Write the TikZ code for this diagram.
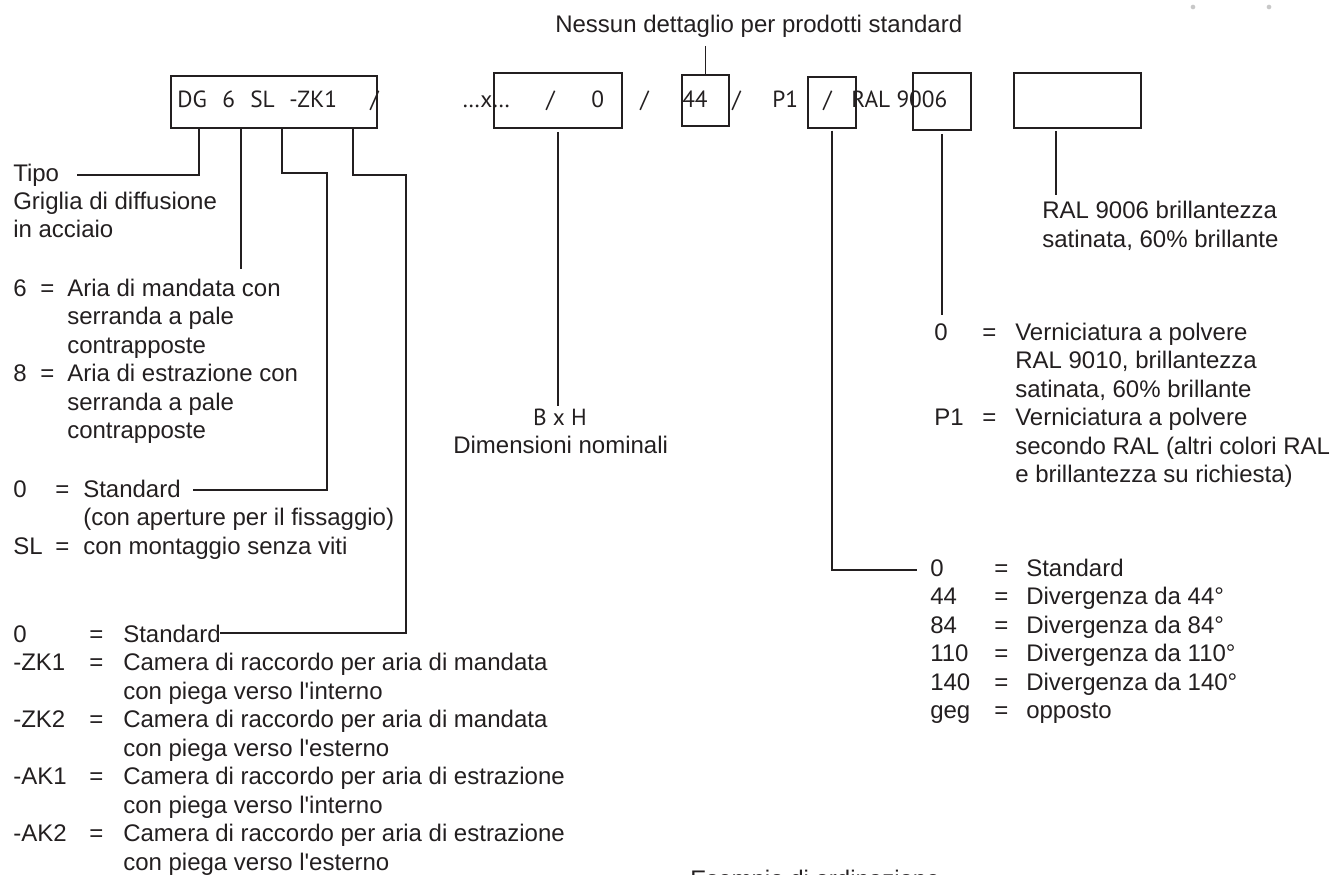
\documentclass[tikz,border=0pt]{standalone}
\usepackage{fontspec}
\setmainfont{Liberation Sans}
\newfontfamily\codefont{PT Sans}
\definecolor{ink}{RGB}{35,31,32}
\definecolor{dotgray}{RGB}{200,200,200}
\begin{document}
\begin{tikzpicture}[x=0.75pt,y=-0.75pt,
  desc/.style={anchor=base west, inner sep=0pt, text=ink, font=\fontsize{18}{21.4}\selectfont},
  code/.style={anchor=base west, inner sep=0pt, text=ink, font=\codefont\fontsize{17.5}{20}\selectfont},
  codebox/.style={draw=ink, line width=0.9pt, inner sep=0pt},
  conn/.style={draw=ink, line width=0.8pt},
  dotmark/.style={circle, fill=dotgray, inner sep=0pt, minimum size=3.5pt}]
\useasboundingbox (0,0) rectangle (1330,874);

% decorative dots
\node[dotmark] (dot1) at (1193,7) {};
\node[dotmark] (dot2) at (1269,7) {};

% title
\node[desc] (title) at (555,33) {Nessun dettaglio per prodotti standard};

% boxes
\node[codebox, minimum width=154.5pt, minimum height=39pt] (b1) at (274,102) {};
\node[codebox, minimum width=96pt, minimum height=41.25pt] (b2) at (558,100.5) {};
\node[codebox, minimum width=35.25pt, minimum height=38.25pt] (b44) at (705.5,100.5) {};
\node[codebox, minimum width=36pt, minimum height=38.25pt] (bsl) at (832,102.5) {};
\node[codebox, minimum width=43.5pt, minimum height=42.75pt] (bral) at (942,101.5) {};
\node[codebox, minimum width=95.25pt, minimum height=41.25pt] (bempty) at (1077.5,100.5) {};

% code tokens
\node[code] (cDG) at (177,108) {DG};
\node[code] (c6) at (222,108) {6};
\node[code] (cSL) at (250,108) {SL};
\node[code] (cZK) at (289,108) {-ZK1};
\node[code] (cs1) at (370,108) {/};
\node[code] (cBH) at (462,108) {…x…};
\node[code] (cs2) at (546,108) {/};
\node[code] (c0) at (591,108) {0};
\node[code] (cs3) at (640,108) {/};
\node[code] (c44) at (682,108) {44};
\node[code] (cs4) at (732,108) {/};
\node[code] (cP1) at (772,108) {P1};
\node[code] (cs5) at (823,108) {/};
\node[code] (cRAL) at (851,108) {RAL 9006};

% ---------- left column ----------
\node[desc] (tipo) at (13,181) {Tipo};
\node[desc] (tipo2) at (13,209) {Griglia di diffusione};
\node[desc] (tipo3) at (13,237) {in acciaio};

\node[desc] (g6k) at (13,296) {6};
\node[desc] (g6e) at (40,296) {=};
\node[desc] (g6a) at (67,296) {Aria di mandata con};
\node[desc] (g6b) at (67,324.5) {serranda a pale};
\node[desc] (g6c) at (67,353) {contrapposte};
\node[desc] (g8k) at (13,381.5) {8};
\node[desc] (g8e) at (40,381.5) {=};
\node[desc] (g8a) at (67,381.5) {Aria di estrazione con};
\node[desc] (g8b) at (67,410) {serranda a pale};
\node[desc] (g8c) at (67,438.5) {contrapposte};

\node[desc] (s0k) at (13,497) {0};
\node[desc] (s0e) at (55,497) {=};
\node[desc] (s0a) at (83,497) {Standard};
\node[desc] (s0b) at (83,525.5) {(con aperture per il fissaggio)};
\node[desc] (sSLk) at (13,554) {SL};
\node[desc] (sSLe) at (55,554) {=};
\node[desc] (sSLa) at (83,554) {con montaggio senza viti};

\node[desc] (z0k) at (13,642) {0};
\node[desc] (z0e) at (89,642) {=};
\node[desc] (z0a) at (123,642) {Standard};
\node[desc] (z1k) at (13,670.5) {-ZK1};
\node[desc] (z1e) at (89,670.5) {=};
\node[desc] (z1a) at (123,670.5) {Camera di raccordo per aria di mandata};
\node[desc] (z1b) at (123,699) {con piega verso l\textquotesingle interno};
\node[desc] (z2k) at (13,727.5) {-ZK2};
\node[desc] (z2e) at (89,727.5) {=};
\node[desc] (z2a) at (123,727.5) {Camera di raccordo per aria di mandata};
\node[desc] (z2b) at (123,756) {con piega verso l\textquotesingle esterno};
\node[desc] (a1k) at (13,784.5) {-AK1};
\node[desc] (a1e) at (89,784.5) {=};
\node[desc] (a1a) at (123,784.5) {Camera di raccordo per aria di estrazione};
\node[desc] (a1b) at (123,813) {con piega verso l\textquotesingle interno};
\node[desc] (a2k) at (13,841.5) {-AK2};
\node[desc] (a2e) at (89,841.5) {=};
\node[desc] (a2a) at (123,841.5) {Camera di raccordo per aria di estrazione};
\node[desc] (a2b) at (123,870) {con piega verso l\textquotesingle esterno};

% ---------- middle ----------
\node[code, anchor=base] (bxh) at (560,425) {B x H};
\node[desc] (dimn) at (453,453) {Dimensioni nominali};
\node[desc] (esempio) at (690,887) {Esempio di ordinazione};

% ---------- right ----------
\node[desc] (ral1) at (1042,218) {RAL 9006 brillantezza};
\node[desc] (ral2) at (1042,247) {satinata, 60\% brillante};

\node[desc] (v0k) at (934,340) {0};
\node[desc] (v0e) at (982,340) {=};
\node[desc] (v0a) at (1015,340) {Verniciatura a polvere};
\node[desc] (v0b) at (1015,368.5) {RAL 9010, brillantezza};
\node[desc] (v0c) at (1015,397) {satinata, 60\% brillante};
\node[desc] (vPk) at (934,425.5) {P1};
\node[desc] (vPe) at (982,425.5) {=};
\node[desc] (vPa) at (1015,425.5) {Verniciatura a polvere};
\node[desc] (vPb) at (1015,454) {secondo RAL (altri colori RAL};
\node[desc] (vPc) at (1015,482.5) {e brillantezza su richiesta)};

\node[desc] (d0k) at (930,576) {0};
\node[desc] (d0e) at (994,576) {=};
\node[desc] (d0a) at (1026,576) {Standard};
\node[desc] (d1k) at (930,604.5) {44};
\node[desc] (d1e) at (994,604.5) {=};
\node[desc] (d1a) at (1026,604.5) {Divergenza da 44°};
\node[desc] (d2k) at (930,633) {84};
\node[desc] (d2e) at (994,633) {=};
\node[desc] (d2a) at (1026,633) {Divergenza da 84°};
\node[desc] (d3k) at (930,661.5) {110};
\node[desc] (d3e) at (994,661.5) {=};
\node[desc] (d3a) at (1026,661.5) {Divergenza da 110°};
\node[desc] (d4k) at (930,690) {140};
\node[desc] (d4e) at (994,690) {=};
\node[desc] (d4a) at (1026,690) {Divergenza da 140°};
\node[desc] (d5k) at (930,718.5) {geg};
\node[desc] (d5e) at (994,718.5) {=};
\node[desc] (d5a) at (1026,718.5) {opposto};

% ---------- connector coordinates ----------
\coordinate (pA) at (199,128);
\coordinate (pAend) at (77,175);
\coordinate (pB) at (241,128);
\coordinate (pBend) at (241,269);
\coordinate (pC) at (282,128);
\coordinate (pCmid) at (327,173);
\coordinate (pCend) at (193,490);
\coordinate (pD) at (353,128);
\coordinate (pDmid) at (406,175);
\coordinate (pDend) at (220,633);
\coordinate (pT) at (705.5,46);
\coordinate (pSend) at (917,570);
\coordinate (pRend) at (942,315);
\coordinate (pE) at (1056,131);
\coordinate (pEend) at (1056,195);

% ---------- connectors ----------
\draw[conn] (pA) |- (pAend);
\draw[conn] (pB) -- (pBend);
\draw[conn] (pC) |- (pCmid) |- (pCend);
\draw[conn] (pD) |- (pDmid) |- (pDend);
\draw[conn] (pT) -- (b44.north);
\draw[conn, shorten <=2.5pt, shorten >=2pt] (b2.south) -- (b2.south |- bxh.north);
\draw[conn, shorten <=1.5pt] (bsl.south) |- (pSend);
\draw[conn, shorten <=2.5pt] (bral.south) -- (pRend);
\draw[conn] (pE) -- (pEend);
\end{tikzpicture}
\end{document}
